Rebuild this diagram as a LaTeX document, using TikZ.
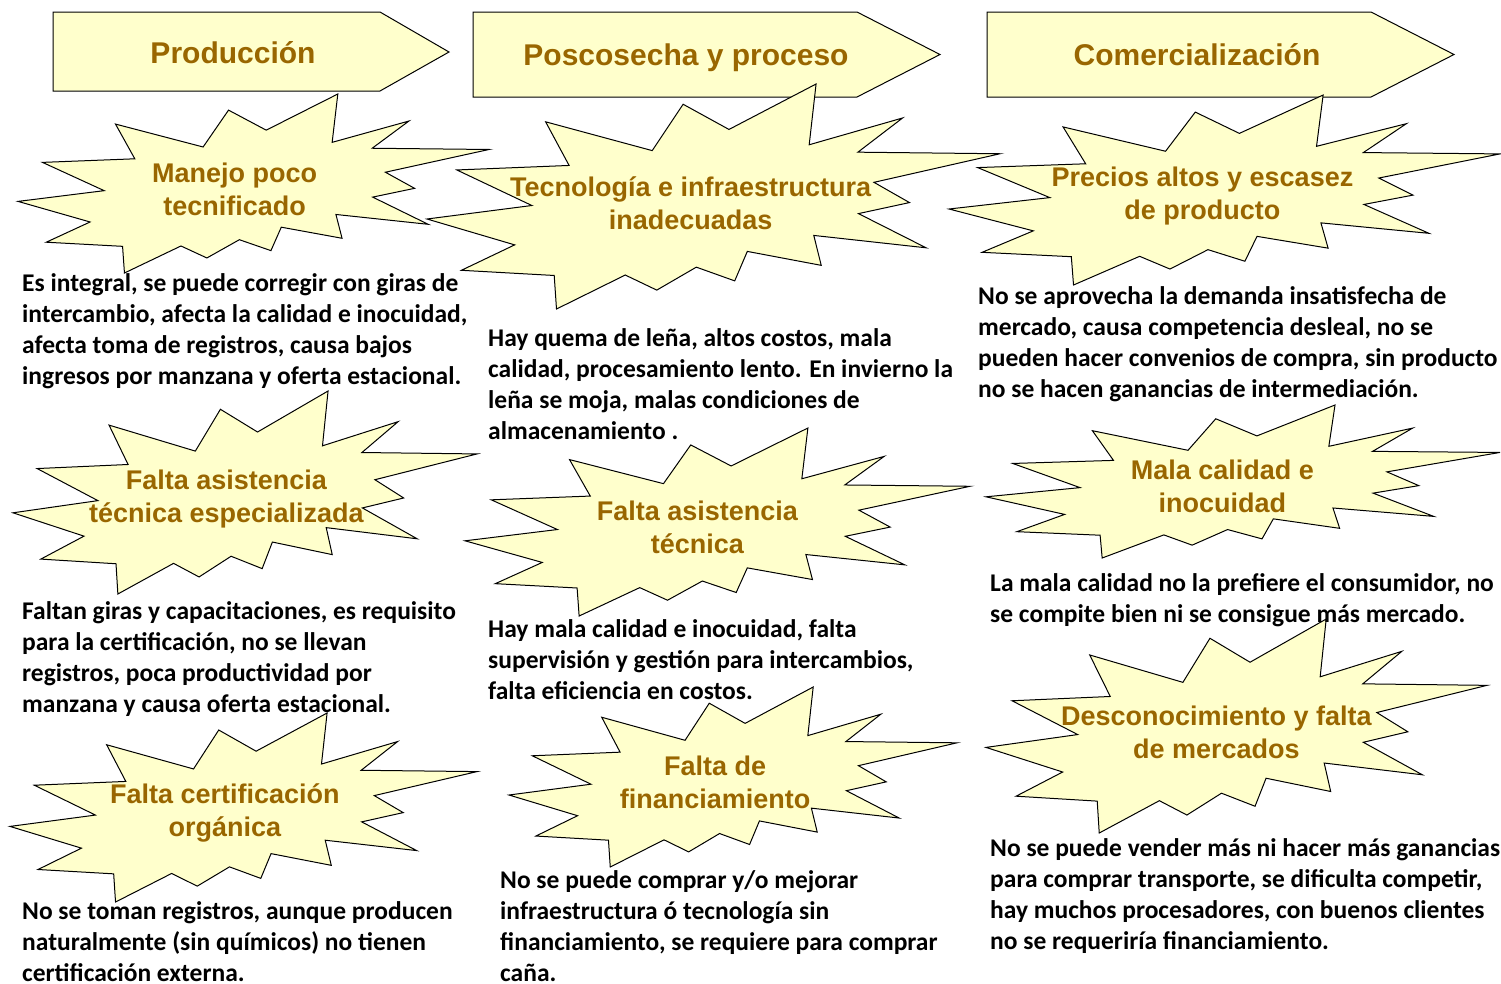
\documentclass[tikz,border=0pt]{standalone}
\usepackage{fontspec}
\setmainfont{Carlito}
\newfontfamily\headfont{Liberation Sans}
\usetikzlibrary{positioning}

\definecolor{burstfill}{HTML}{FFFFCC}
\definecolor{burstink}{HTML}{996600}

\tikzset{
  shapeline/.style={draw=black, fill=burstfill, line width=1pt},
  bursttext/.style={font=\headfont\bfseries\fontsize{27}{33}\selectfont, text=burstink, align=center, inner sep=0pt},
  headtext/.style={font=\headfont\bfseries\fontsize{30}{36}\selectfont, text=burstink, inner sep=0pt},
  note/.style={font=\bfseries\fontsize{25.5}{30.7}\selectfont, align=left, anchor=base west, inner sep=0pt},
}

% #1 name, #2 left, #3 top, #4 width, #5 height, #6 text
\newcommand{\burst}[6]{%
  \begin{scope}[shift={(#2,#3)}, xscale=#4, yscale=#5]
    \draw[shapeline] (0.679,0) -- (0.667,0.27) -- (0.830,0.151) -- (0.752,0.303)
      -- (1,0.31) -- (0.780,0.437) -- (0.842,0.527) -- (0.753,0.576)
      -- (0.871,0.728) -- (0.675,0.673) -- (0.688,0.806) -- (0.559,0.744)
      -- (0.537,0.875) -- (0.470,0.814) -- (0.401,0.916) -- (0.346,0.849)
      -- (0.226,1) -- (0.222,0.851) -- (0.060,0.828) -- (0.153,0.715)
      -- (0,0.6) -- (0.183,0.540) -- (0.052,0.382) -- (0.248,0.362)
      -- (0.207,0.168) -- (0.393,0.296) -- (0.447,0.09) -- (0.527,0.202) -- cycle;
    \node[bursttext] (#1) at (0.46,0.53) {#6};
  \end{scope}}

\begin{document}
\begin{tikzpicture}[x=1pt,y=-1pt]
\useasboundingbox (0,0) rectangle (1501,983);

% etapas
\draw[shapeline] (53,12) -- (380,12) -- (449,52) -- (380,91) -- (53,91) -- cycle;
\draw[shapeline] (473,12) -- (857,12) -- (940,54.5) -- (857,97) -- (473,97) -- cycle;
\draw[shapeline] (987,12) -- (1371,12) -- (1454,54.5) -- (1371,97) -- (987,97) -- cycle;
\node[headtext] (prod) at (233,53) {Producción};
\node[headtext] (posc) at (686,58) {Poscosecha y proceso};
\node[headtext] (comer) at (1197,55) {Comercialización};

% problemas
\burst{manejo}{18}{94}{471}{179}{Manejo poco\\tecnificado}
\burst{tecno}{427}{84}{573}{225}{Tecnología e infraestructura\\inadecuadas}
\burst{precios}{949}{95}{551}{190}{Precios altos y escasez\\de producto}
\burst{asist}{13}{391}{464}{203}{Falta asistencia\\técnica especializada}
\burst{asistpc}{465}{428}{505}{188}{Falta asistencia\\técnica}
\burst{calidad}{986}{405}{514}{153}{Mala calidad e\\inocuidad}
\burst{certif}{10}{713}{467}{189}{Falta certificación\\orgánica}
\burst{financ}{509}{687}{448}{180}{Falta de\\financiamiento}
\burst{mercado}{986}{619}{501}{214}{Desconocimiento y falta\\de mercados}

% efectos (base = ultima linea)
\node[note] (nmanejo) at (22,384) {Es integral, se puede corregir con giras de\\intercambio, afecta la calidad e inocuidad,\\afecta toma de registros, causa bajos\\ingresos por manzana y oferta estacional.};
\node[note] (ntecno) at (488,439) {Hay quema de leña, altos costos, mala\\calidad, procesamiento lento. En invierno la\\leña se moja, malas condiciones de\\almacenamiento .};
\node[note] (nprecios) at (978,397) {No se aprovecha la demanda insatisfecha de\\mercado, causa competencia desleal, no se\\pueden hacer convenios de compra, sin producto\\no se hacen ganancias de intermediación.};
\node[note] (nasist) at (22,712) {Faltan giras y capacitaciones, es requisito\\para la certificación, no se llevan\\registros, poca productividad por\\manzana y causa oferta estacional.};
\node[note] (nasistpc) at (488,699) {Hay mala calidad e inocuidad, falta\\supervisión y gestión para intercambios,\\falta eficiencia en costos.};
\node[note] (ncalidad) at (990,622) {La mala calidad no la prefiere el consumidor, no\\se compite bien ni se consigue más mercado.};
\node[note] (ncertif) at (22,981) {No se toman registros, aunque producen\\naturalmente (sin químicos) no tienen\\certificación externa.};
\node[note] (nfinanc) at (500,981) {No se puede comprar y/o mejorar\\infraestructura ó tecnología sin\\financiamiento, se requiere para comprar\\caña.};
\node[note] (nmercado) at (990,949) {No se puede vender más ni hacer más ganancias\\para comprar transporte, se dificulta competir,\\hay muchos procesadores, con buenos clientes\\no se requeriría financiamiento.};
\end{tikzpicture}
\end{document}
